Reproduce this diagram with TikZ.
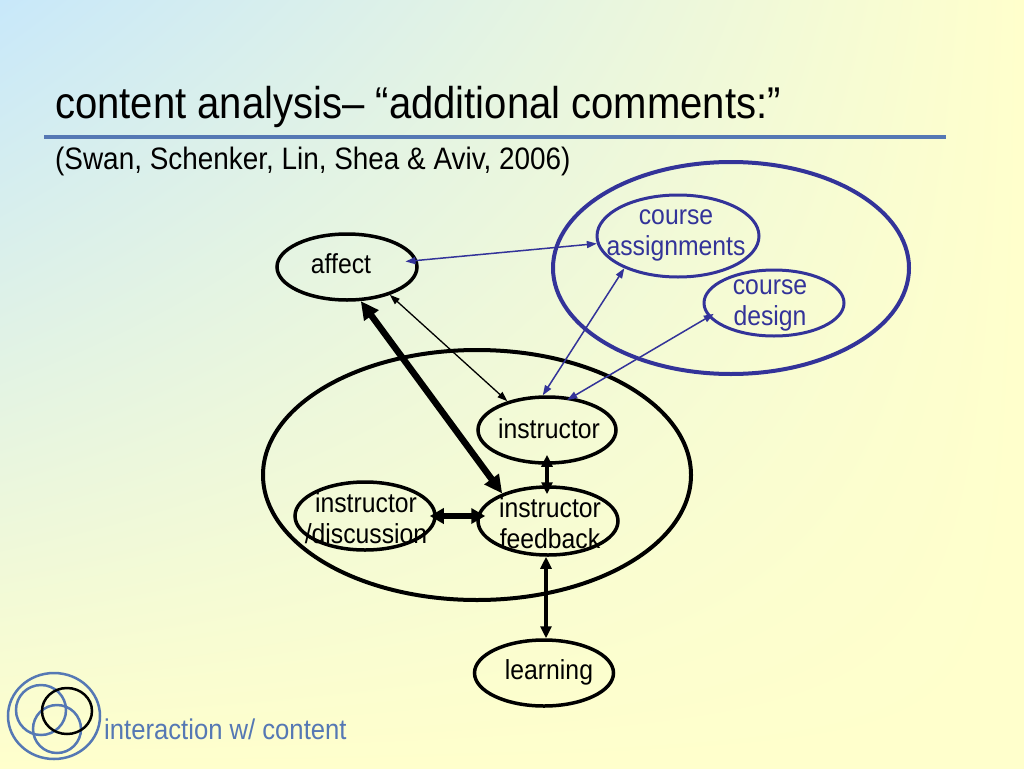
\documentclass[tikz,border=0pt]{standalone}
\usepackage{fontspec}
\setmainfont{Liberation Sans}[FakeStretch=0.9]
\usetikzlibrary{arrows.meta,shapes.geometric,shadings}
\definecolor{bgblue}{RGB}{200,232,250}
\definecolor{bgyellow}{RGB}{255,255,204}
\definecolor{navy}{RGB}{51,51,153}
\definecolor{steel}{RGB}{85,120,180}
\begin{document}
\begin{tikzpicture}[x=1pt,y=-1pt,
  ell/.style={draw, ellipse, inner sep=0pt, line width=3.5pt},
  bell/.style={draw=navy, ellipse, inner sep=0pt, line width=3pt},
  lbl/.style={font=\fontsize{27.5}{31}\selectfont, align=center, inner sep=0pt},
  blbl/.style={lbl, text=navy},
  thinblue/.style={draw=navy, line width=1.5pt, {Triangle[length=10pt,width=7pt]}-{Triangle[length=10pt,width=7pt]}},
  thinblack/.style={line width=1.3pt, {Triangle[length=10pt,width=7pt]}-{Triangle[length=10pt,width=7pt]}},
  midblack/.style={line width=3.5pt, {Triangle[length=12pt,width=11pt]}-{Triangle[length=12pt,width=11pt]}},
  thickblack/.style={line width=6.5pt, {Triangle[length=18pt,width=17pt]}-{Triangle[length=18pt,width=17pt]}},
  logoc/.style={draw=steel, line width=2.5pt}
]
\useasboundingbox (0,0) rectangle (1024,768);
\shade[upper left=bgblue, upper right=bgyellow, lower left=bgyellow, lower right=bgyellow] (0,0) rectangle (1024,768);

% title
\node[anchor=base west, inner sep=0pt, font=\fontsize{44.5}{48}\selectfont] (title) at (55,118) {content analysis– “additional comments:”};
\draw[steel, line width=4pt] (44,137) -- (946,137);
\node[anchor=base west, inner sep=0pt, font=\fontsize{31}{34}\selectfont] (sub) at (55,169) {(Swan, Schenker, Lin, Shea \& Aviv, 2006)};

% big ellipses
\node[draw=navy, line width=4pt, ellipse, minimum width=356pt, minimum height=212pt] (outerblue) at (731,268) {};
\node[draw, line width=4pt, ellipse, minimum width=428pt, minimum height=250pt] (outerblack) at (477,475) {};

% nodes
\node[bell, minimum width=162pt, minimum height=82pt] (assign) at (678,236) {};
\node[blbl] (assignT) at (676,235) {course\\assignments};
\node[bell, minimum width=140pt, minimum height=66pt] (design) at (774,303) {};
\node[blbl] (designT) at (770,305) {course\\design};

\node[ell, minimum width=140pt, minimum height=66pt] (affect) at (347,267) {};
\node[lbl] (affectT) at (341,264) {affect};
\node[ell, minimum width=138pt, minimum height=66pt] (instr) at (547,430) {};
\node[lbl] (instrT) at (549,429) {instructor};
\node[ell, minimum width=140pt, minimum height=68pt] (disc) at (365,516) {};
\node[lbl] (discT) at (366,518) {instructor\\/discussion};
\node[ell, minimum width=140pt, minimum height=68pt] (feed) at (548,521) {};
\node[lbl] (feedT) at (550,523) {instructor\\feedback};
\node[ell, minimum width=139pt, minimum height=66pt] (learn) at (544,673) {};
\node[lbl] (learnT) at (549,672) {learning};

% connectors
\draw[thinblue, shorten <=-12pt] (affect) -- (assign);
\draw[thinblue] (instr.97) -- (assign.211);
\draw[thinblue, shorten <=-6pt, shorten >=-5pt] (design.192) -- (instr.53);
\draw[thinblack] (affect.-33) -- (instr.144);
\draw[thickblack] (affect.-68) -- (feed.149);
\draw[midblack, shorten <=-10pt, shorten >=-9pt] (instr.south) -- (instr.south |- feed.north);
\draw[line width=6pt, {Triangle[length=14pt,width=15pt]}-{Triangle[length=14pt,width=15pt]}, shorten <=-7pt, shorten >=-9pt] (disc.east) -- (disc.east -| feed.west);
\draw[midblack] ([xshift=-2pt]feed.south) -- ([xshift=-2pt]feed.south |- learn.north);

% logo
\draw[logoc] (54,716) ellipse [x radius=46, y radius=43];
\draw[logoc] (41,710) circle [radius=25];
\draw[logoc] (57,729) circle [radius=24];
\draw[black, line width=2.5pt] (67,711) ellipse [x radius=25, y radius=23];
\node[anchor=base west, inner sep=0pt, text=steel, font=\fontsize{28.5}{30}\selectfont] (footer) at (104,739) {interaction w/ content};
\end{tikzpicture}
\end{document}
